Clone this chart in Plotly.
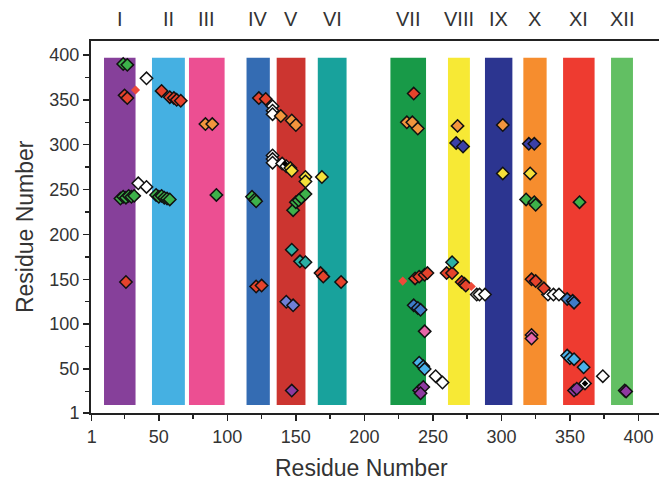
import plotly.graph_objects as go

# Helix bands (residue ranges) and labels
band_labels = ["I", "II", "III", "IV", "V", "VI", "VII", "VIII", "IX", "X", "XI", "XII"]
band_start = [10, 45, 72, 114, 136, 166, 219, 261, 288, 316, 345, 380]
band_end = [33, 69, 98, 131, 157, 187, 245, 277, 308, 333, 368, 396]
band_colors = ["#86409a", "#45b0e2", "#ec4f92", "#346cb3", "#cc3530", "#18a29c",
               "#189a48", "#f7e935", "#2c3590", "#f68d2e", "#ee3b30", "#62bf63"]
band_bottom = 10
band_top = 397

# Contact points, grouped by marker colour
green_x = [24, 27, 22, 24, 26, 28, 30, 32, 48, 50, 52, 54, 56, 58, 92, 118, 120, 121,
           148, 150, 152, 154, 157, 318, 324, 325, 357]
green_y = [390, 389, 240, 242, 241, 243, 242, 243, 244, 242, 243, 241, 240, 239, 244, 242, 239, 237,
           227, 236, 238, 241, 245, 239, 236, 233, 236]

red_x = [25, 27, 52, 58, 61, 63, 66, 123, 128, 236, 26, 121, 125, 168, 170, 183,
         237, 240, 244, 246, 260, 264, 271, 273, 274, 322, 325, 331]
red_y = [355, 352, 360, 353, 352, 350, 349, 352, 351, 357, 147, 142, 143, 157, 153, 147,
         151, 153, 155, 157, 157, 157, 147, 145, 143, 150, 148, 140]

reddot_x = [33, 228, 278]
reddot_y = [361, 148, 142]

orange_x = [84, 89, 139, 147, 150, 231, 235, 239, 268, 301]
orange_y = [323, 323, 332, 327, 322, 325, 325, 318, 321, 322]

white_x = [41, 35, 41, 133, 133, 133, 133, 133, 133, 140, 143, 282, 284, 288, 252, 257,
           334, 338, 342, 374, 361]
white_y = [374, 257, 253, 343, 338, 334, 288, 284, 280, 279, 276, 133, 133, 133, 42, 35,
           133, 133, 133, 42, 34]

yellow_x = [146, 147, 157, 157, 169, 301, 321]
yellow_y = [274, 271, 264, 259, 264, 268, 268]

navy_x = [267, 272, 320, 324]
navy_y = [302, 298, 301, 301]

teal_x = [147, 153, 157, 264]
teal_y = [183, 170, 169, 169]

periwinkle_x = [143, 148]
periwinkle_y = [125, 121]

blue_x = [236, 239, 241, 348, 352, 353]
blue_y = [121, 118, 116, 128, 126, 124]

lightblue_x = [240, 243, 244, 348, 350, 353, 360]
lightblue_y = [57, 53, 50, 65, 62, 61, 52]

pink_x = [244, 322, 322]
pink_y = [92, 88, 84]

purple_x = [147, 240, 243, 241, 353, 355, 390, 391]
purple_y = [26, 26, 30, 23, 26, 28, 26, 25]

blackdot_x = [142, 361]
blackdot_y = [279, 34]

tick_vals = [1, 50, 100, 150, 200, 250, 300, 350, 400]
minor_vals = [25, 75, 125, 175, 225, 275, 325, 375]
axis_title = "Residue Number"

FONT = "Liberation Sans, Arial"

fig = go.Figure()

for s, e, c in zip(band_start, band_end, band_colors):
    fig.add_shape(type="rect", xref="x", yref="y", x0=s, x1=e, y0=band_bottom, y1=band_top,
                  fillcolor=c, line=dict(width=0), layer="below")

groups = [
    (green_x, green_y, "#3db14a"),
    (white_x, white_y, "#ffffff"),
    (red_x, red_y, "#e5432c"),
    (orange_x, orange_y, "#f2953d"),
    (yellow_x, yellow_y, "#f5e03a"),
    (navy_x, navy_y, "#3b40a8"),
    (teal_x, teal_y, "#2ab0a4"),
    (periwinkle_x, periwinkle_y, "#6f7fd6"),
    (blue_x, blue_y, "#3d7cc8"),
    (lightblue_x, lightblue_y, "#4ab2ea"),
    (pink_x, pink_y, "#e866a8"),
    (purple_x, purple_y, "#8e3aa0"),
]
for gx, gy, c in groups:
    fig.add_trace(go.Scatter(x=gx, y=gy, mode="markers", showlegend=False,
                             marker=dict(symbol="diamond", size=9.5, color=c,
                                         line=dict(color="#111111", width=1.5))))

fig.add_trace(go.Scatter(x=reddot_x, y=reddot_y, mode="markers", showlegend=False,
                         marker=dict(symbol="diamond", size=7, color="#ee4a3a",
                                     line=dict(width=0))))
fig.add_trace(go.Scatter(x=blackdot_x, y=blackdot_y, mode="markers", showlegend=False,
                         marker=dict(symbol="diamond", size=5, color="#000000",
                                     line=dict(width=0))))

for lab, s, e in zip(band_labels, band_start, band_end):
    fig.add_annotation(x=(s + e) / 2, y=1.058, xref="x", yref="paper", text=lab,
                       showarrow=False, font=dict(size=20, color="#333333", family=FONT),
                       xanchor="center", yanchor="middle")

# Axis titles
fig.add_annotation(x=0.477, y=-0.148, xref="paper", yref="paper", text=axis_title,
                   showarrow=False, font=dict(size=23, color="#333333", family=FONT),
                   xanchor="center", yanchor="middle")
fig.add_annotation(x=-0.116, y=0.5, xref="paper", yref="paper", text=axis_title,
                   textangle=-90, showarrow=False,
                   font=dict(size=23, color="#333333", family=FONT),
                   xanchor="center", yanchor="middle")

axis_common = dict(
    tickmode="array", tickvals=tick_vals, ticktext=[str(v) for v in tick_vals],
    ticks="outside", ticklen=6, tickwidth=1.5, tickcolor="#222222",
    showline=True, linecolor="#222222", linewidth=2, showgrid=False, zeroline=False,
    automargin=False,
    tickfont=dict(size=18, color="#333333", family=FONT),
    minor=dict(tickmode="array", tickvals=minor_vals, ticks="outside", ticklen=4,
               tickwidth=1.5, tickcolor="#222222", showgrid=False),
)

fig.update_xaxes(range=[0.5, 415], mirror=True, **axis_common)
fig.update_yaxes(range=[1, 415.6], mirror=False, **axis_common)

fig.update_layout(width=659, height=480, margin=dict(l=91, r=0, t=41, b=67),
                  plot_bgcolor="white", paper_bgcolor="white",
                  font=dict(family=FONT, color="#333333"))

# remove the default 8px page margin so the figure fills the 659x480 window exactly
fig.write_html("out.html", config={"displayModeBar": False, "staticPlot": True},
               post_script="document.body.style.margin='0px';document.body.style.overflow='hidden';")
